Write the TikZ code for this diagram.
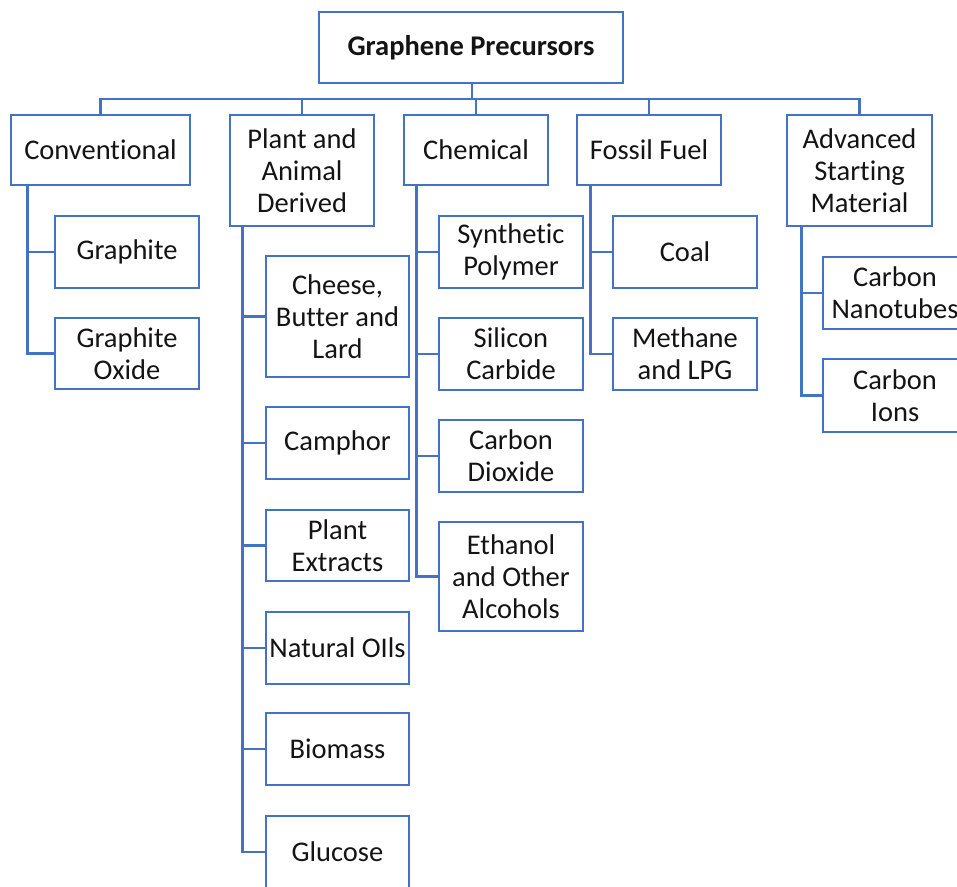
\documentclass[tikz,border=0pt]{standalone}
\usepackage{fontspec}
\setmainfont{Carlito}[Ligatures={NoCommon}]
\definecolor{boxblue}{HTML}{4472C4}
\definecolor{txt}{HTML}{141414}
\tikzset{
  box/.style={draw=boxblue, line width=2.6pt, fill=white, align=center, inner sep=0pt,
    text=txt, font=\fontsize{28.5}{32}\selectfont, minimum width=144pt},
  link/.style={draw=boxblue, line width=2.6pt},
}
\begin{document}
\begin{tikzpicture}[x=1pt,y=-1pt]
\useasboundingbox (0,0) rectangle (957,886);
\clip (0,0) rectangle (957,886);
% top level
\node[box, minimum width=304pt, minimum height=71pt, font=\bfseries\fontsize{28.5}{32}\selectfont] (root) at (471,47.5) {Graphene Precursors};
\node[box, minimum width=179pt, minimum height=70pt] (conv) at (100.5,150) {Conventional};
\node[box, minimum height=111pt] (plant) at (302,170.5) {Plant and\\Animal\\Derived};
\node[box, minimum height=70pt] (chem) at (476,150) {Chemical};
\node[box, minimum height=70pt] (fossil) at (649,150) {Fossil Fuel};
\node[box, minimum width=145pt, minimum height=111pt] (adv) at (859.5,170.5) {Advanced\\Starting\\Material};
% conventional
\node[box, minimum height=72pt] (graphite) at (127,252) {Graphite};
\node[box, minimum height=71pt] (gox) at (127,353.5) {Graphite\\Oxide};
% plant and animal
\node[box, minimum width=143pt, minimum height=121pt] (cheese) at (337.5,316.5) {Cheese,\\Butter and\\Lard};
\node[box, minimum width=143pt, minimum height=72pt] (camphor) at (337.5,443) {Camphor};
\node[box, minimum width=143pt, minimum height=71pt] (extracts) at (337.5,545.5) {Plant\\Extracts};
\node[box, minimum width=143pt, minimum height=72pt] (oils) at (337.5,648) {Natural OIls};
\node[box, minimum width=143pt, minimum height=72pt] (biomass) at (337.5,749) {Biomass};
\node[box, minimum width=143pt, minimum height=72pt] (glucose) at (337.5,852) {Glucose};
% chemical
\node[box, minimum height=72pt] (synth) at (511,252) {Synthetic\\Polymer};
\node[box, minimum height=72pt] (sic) at (511,354) {Silicon\\Carbide};
\node[box, minimum height=72pt] (co2) at (511,456) {Carbon\\Dioxide};
\node[box, minimum height=109pt] (ethanol) at (511,576.5) {Ethanol\\and Other\\Alcohols};
% fossil fuel
\node[box, minimum height=72pt] (coal) at (685,252) {Coal};
\node[box, minimum height=72pt] (methane) at (685,354) {Methane\\and LPG};
% advanced
\node[box, minimum height=72pt] (cnt) at (895,293) {Carbon\\Nanotubes};
\node[box, minimum height=73pt] (cions) at (895,395.5) {Carbon\\Ions};
% bus
\coordinate (bus) at (0,99);
\coordinate (rootstem) at (472,83);
\draw[link] (rootstem) -- (rootstem |- bus);
\draw[link] (conv.north) -- (conv.north |- bus) -- (adv.north |- bus) -- (adv.north);
\draw[link] (plant.north) -- (plant.north |- bus);
\draw[link] (chem.north) -- (chem.north |- bus);
\draw[link] (fossil.north) -- (fossil.north |- bus);
% stems
\coordinate (s1) at ([xshift=18pt]conv.south west);
\draw[link] (s1) |- (gox.west);
\draw[link] (graphite.west) -- (graphite.west -| s1);
\coordinate (s2) at ([xshift=14pt]plant.south west);
\draw[link] (s2) |- (glucose.west);
\foreach \n in {cheese,camphor,extracts,oils,biomass}{\draw[link] (\n.west) -- (\n.west -| s2);}
\coordinate (s3) at ([xshift=14pt]chem.south west);
\draw[link] (s3) |- (ethanol.west);
\foreach \n in {synth,sic,co2}{\draw[link] (\n.west) -- (\n.west -| s3);}
\coordinate (s4) at ([xshift=15pt]fossil.south west);
\draw[link] (s4) |- (methane.west);
\draw[link] (coal.west) -- (coal.west -| s4);
\coordinate (s5) at ([xshift=16pt]adv.south west);
\draw[link] (s5) |- (cions.west);
\draw[link] (cnt.west) -- (cnt.west -| s5);
\end{tikzpicture}
\end{document}
